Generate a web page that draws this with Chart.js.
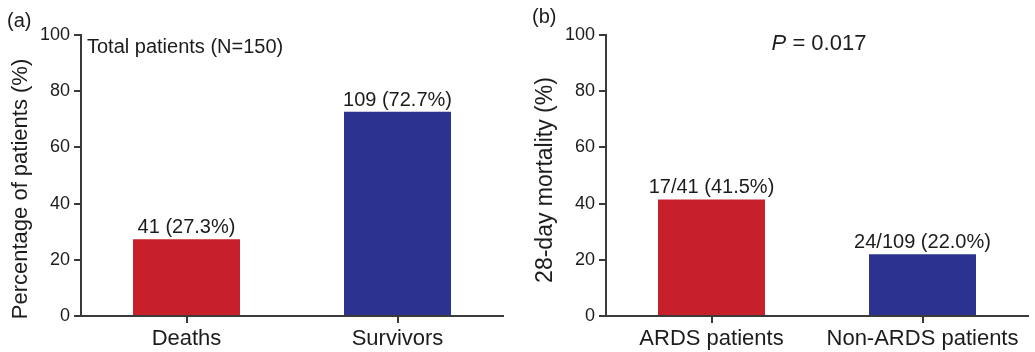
<!DOCTYPE html>
<html>
<head>
<meta charset="utf-8">
<script src="https://cdn.jsdelivr.net/npm/chart.js@4.4.1/dist/chart.umd.min.js"></script>
<style>
  html, body { margin: 0; padding: 0; background: #fff; }
  body { width: 1035px; height: 352px; position: relative; overflow: hidden; }
  .panel { position: absolute; top: 0; height: 352px; }
  #pa { left: 0; width: 515px; }
  #pb { left: 515px; width: 520px; }
</style>
</head>
<body>
<div class="panel" id="pa"><canvas id="ca"></canvas></div>
<div class="panel" id="pb"><canvas id="cb"></canvas></div>
<script>
// ---- data ----
const categoriesA = ["Deaths", "Survivors"];
const valuesA = [27.3, 72.7];
const labelsA = ["41 (27.3%)", "109 (72.7%)"];

const categoriesB = ["ARDS patients", "Non-ARDS patients"];
const valuesB = [41.5, 22.0];
const labelsB = ["17/41 (41.5%)", "24/109 (22.0%)"];

const yTicks = [0, 20, 40, 60, 80, 100];
const barColors = ["#c8202a", "#2b338f"];

const FONT = "'Liberation Sans', Arial, Helvetica, sans-serif";
const AXIS = "#3a3a3a";
const TXT = "#1c1c1c";

function textPlugin(cfg) {
  return {
    id: 'texts' + cfg.id,
    afterDraw(chart) {
      const ctx = chart.ctx;
      ctx.save();
      ctx.fillStyle = TXT;
      // value labels
      const meta = chart.getDatasetMeta(0);
      ctx.font = "20px " + FONT;
      ctx.textAlign = 'center';
      ctx.textBaseline = 'alphabetic';
      meta.data.forEach((bar, i) => {
        ctx.fillText(cfg.valueLabels[i], bar.x, bar.y - 6);
      });
      // panel letter
      ctx.textAlign = 'left';
      ctx.font = "20px " + FONT;
      ctx.fillText(cfg.letter, cfg.letterX, cfg.letterY);
      // axis title
      ctx.save();
      ctx.translate(cfg.titleX, cfg.titleY);
      ctx.rotate(-Math.PI / 2);
      ctx.textAlign = 'center';
      ctx.font = cfg.titleSize + "px " + FONT;
      ctx.fillText(cfg.title, 0, 0);
      ctx.restore();
      // extra annotation
      if (cfg.note) cfg.note(ctx, chart);
      ctx.restore();
    }
  };
}

function makeChart(canvasId, cats, vals, cfg) {
  return new Chart(document.getElementById(canvasId), {
    type: 'bar',
    data: {
      labels: cats,
      datasets: [{
        data: vals,
        backgroundColor: barColors,
        borderWidth: 0,
        categoryPercentage: 1.0,
        barPercentage: 0.507
      }]
    },
    options: {
      responsive: true,
      maintainAspectRatio: false,
      animation: false,
      events: [],
      layout: { padding: { top: 35, right: cfg.padRight, bottom: 0, left: 0 } },
      plugins: { legend: { display: false }, tooltip: { enabled: false } },
      scales: {
        x: {
          offset: true,
          grid: {
            display: true, drawOnChartArea: false, drawTicks: true,
            tickLength: 7, offset: false, color: AXIS, lineWidth: 2
          },
          border: { display: true, color: AXIS, width: 2 },
          ticks: { color: TXT, font: { family: FONT, size: 22 }, padding: 3 },
          afterFit(scale) { scale.height = 36; }
        },
        y: {
          min: 0, max: 100,
          afterBuildTicks(scale) { scale.ticks = yTicks.map(v => ({ value: v })); },
          grid: {
            display: true, drawOnChartArea: false, drawTicks: true,
            tickLength: 7, color: AXIS, lineWidth: 2
          },
          border: { display: true, color: AXIS, width: 2 },
          ticks: { color: TXT, font: { family: FONT, size: 18 }, padding: 4 },
          afterFit(scale) { scale.width = cfg.yWidth; }
        }
      }
    },
    plugins: [textPlugin(cfg)]
  });
}

makeChart('ca', categoriesA, valuesA, {
  id: 'a', padRight: 12, yWidth: 81,
  valueLabels: labelsA,
  letter: "(a)", letterX: 7, letterY: 27,
  title: "Percentage of patients (%)", titleSize: 22, titleX: 27, titleY: 189,
  note(ctx) {
    ctx.textAlign = 'left';
    ctx.font = "20px " + FONT;
    ctx.fillText("Total patients (N=150)", 87, 53);
  }
});

makeChart('cb', categoriesB, valuesB, {
  id: 'b', padRight: 7, yWidth: 91,
  valueLabels: labelsB,
  letter: "(b)", letterX: 17, letterY: 23,
  title: "28-day mortality (%)", titleSize: 23, titleX: 37, titleY: 180,
  note(ctx, chart) {
    const cx = (chart.chartArea.left + chart.chartArea.right) / 2 + 2;
    ctx.textAlign = 'left';
    ctx.font = "italic 22px " + FONT;
    const p = "P";
    const pw = ctx.measureText(p).width;
    ctx.font = "22px " + FONT;
    const rest = " = 0.017";
    const rw = ctx.measureText(rest).width;
    const x0 = cx - (pw + rw) / 2;
    ctx.font = "italic 22px " + FONT;
    ctx.fillText(p, x0, 50);
    ctx.font = "22px " + FONT;
    ctx.fillText(rest, x0 + pw, 50);
  }
});
</script>
</body>
</html>
